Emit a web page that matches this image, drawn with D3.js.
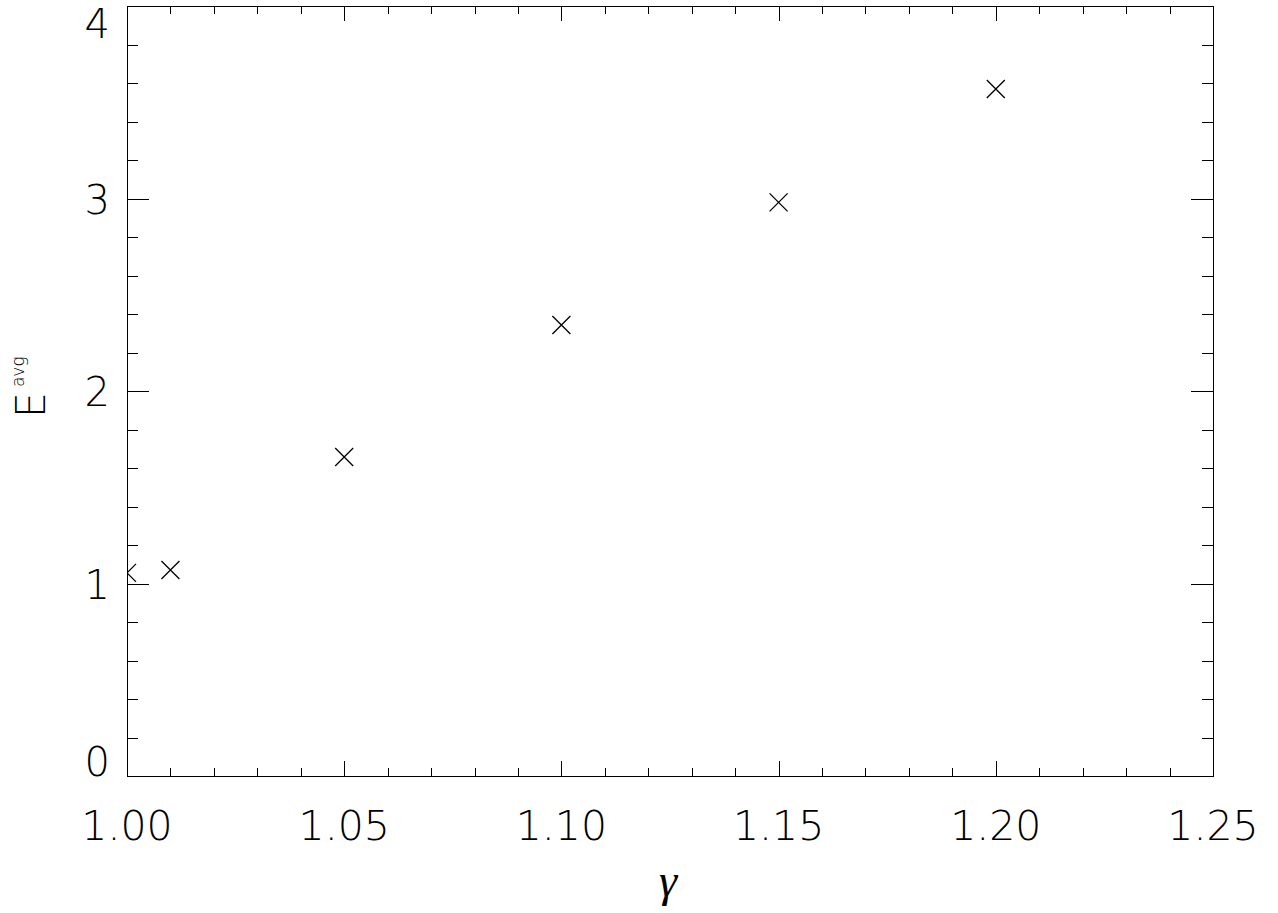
<!DOCTYPE html>
<html>
<head>
<meta charset="utf-8">
<script src="https://cdn.jsdelivr.net/npm/d3@7"></script>
<style>
  body { margin: 0; background: #fff; }
  svg { display: block; }
  .lbl { font-family: "DejaVu Sans", sans-serif; font-weight: 200; fill: #000; }
</style>
</head>
<body>
<svg width="1278" height="913"></svg>
<script>
// data
var gammaVals = [1.00, 1.01, 1.05, 1.10, 1.15, 1.20];
var eAvgVals = [1.055, 1.07, 1.657, 2.343, 2.98, 3.569];
var xMajorTicks = [1.00, 1.05, 1.10, 1.15, 1.20, 1.25];
var yMajorTicks = [0, 1, 2, 3, 4];

var svg = d3.select('svg');

// plot box (don't call it "top", that's window.top)
var boxLeft = 127, boxRight = 1213, boxTop = 6, boxBottom = 776;

var scaleX = d3.scaleLinear().domain([1.00, 1.25]).range([boxLeft, boxRight]);
var scaleY = d3.scaleLinear().domain([0, 4]).range([boxBottom, boxTop]);

// minor ticks every 0.01 on x and 0.2 on y
var xMinor = d3.range(0, 26).map(function(i){ return 1 + i * 0.01; });
var yMinor = d3.range(0, 21).map(function(i){ return i * 0.2; });

var xMajLen = 15, xMinLen = 7.7, yMajLen = 21.7, yMinLen = 10.9;

function styleAxis(g){
    g.selectAll('path, line').attr('stroke', '#000').attr('stroke-width', 1)
        .attr('shape-rendering', 'crispEdges');
    g.selectAll('text').remove();
}

//bottom and top axes, ticks pointing inward
svg.append('g').attr('transform', 'translate(0,' + boxBottom + ')')
    .call(d3.axisBottom(scaleX).tickValues(xMinor).tickSizeInner(-xMinLen).tickSizeOuter(0).tickFormat(''))
    .call(styleAxis);
svg.append('g').attr('transform', 'translate(0,' + boxBottom + ')')
    .call(d3.axisBottom(scaleX).tickValues(xMajorTicks).tickSizeInner(-xMajLen).tickSizeOuter(0).tickFormat(''))
    .call(styleAxis);
svg.append('g').attr('transform', 'translate(0,' + boxTop + ')')
    .call(d3.axisTop(scaleX).tickValues(xMinor).tickSizeInner(-xMinLen).tickSizeOuter(0).tickFormat(''))
    .call(styleAxis);
svg.append('g').attr('transform', 'translate(0,' + boxTop + ')')
    .call(d3.axisTop(scaleX).tickValues(xMajorTicks).tickSizeInner(-xMajLen).tickSizeOuter(0).tickFormat(''))
    .call(styleAxis);

//left and right axes
svg.append('g').attr('transform', 'translate(' + boxLeft + ',0)')
    .call(d3.axisLeft(scaleY).tickValues(yMinor).tickSizeInner(-yMinLen).tickSizeOuter(0).tickFormat(''))
    .call(styleAxis);
svg.append('g').attr('transform', 'translate(' + boxLeft + ',0)')
    .call(d3.axisLeft(scaleY).tickValues(yMajorTicks).tickSizeInner(-yMajLen).tickSizeOuter(0).tickFormat(''))
    .call(styleAxis);
svg.append('g').attr('transform', 'translate(' + boxRight + ',0)')
    .call(d3.axisRight(scaleY).tickValues(yMinor).tickSizeInner(-yMinLen).tickSizeOuter(0).tickFormat(''))
    .call(styleAxis);
svg.append('g').attr('transform', 'translate(' + boxRight + ',0)')
    .call(d3.axisRight(scaleY).tickValues(yMajorTicks).tickSizeInner(-yMajLen).tickSizeOuter(0).tickFormat(''))
    .call(styleAxis);

// tick labels
svg.selectAll('.xlbl')
    .data(xMajorTicks)
    .enter()
    .append('text')
    .attr('class', 'lbl')
    .attr('x', function(d){ return scaleX(d); })
    .attr('y', 840)
    .attr('font-size', 41)
    .style('text-anchor', 'middle')
    .text(function(d){ return d.toFixed(2); });

svg.selectAll('.ylbl')
    .data(yMajorTicks)
    .enter()
    .append('text')
    .attr('class', 'lbl')
    .attr('x', 110)
    .attr('y', function(d){
        // end labels are kept inside the axis span
        if (d == 0) return scaleY(d);
        if (d == 4) return scaleY(d) + 32;
        return scaleY(d) + 15;
    })
    .attr('font-size', 40)
    .style('text-anchor', 'end')
    .text(function(d){ return d; });

// axis titles
svg.append('text')
    .attr('x', 668)
    .attr('y', 896)
    .attr('font-family', '"Liberation Serif", serif')
    .attr('font-style', 'italic')
    .attr('font-size', 46)
    .style('text-anchor', 'middle')
    .text('γ');

var yTitle = svg.append('text')
    .attr('class', 'lbl')
    .attr('transform', 'translate(45,418)rotate(-90)');
yTitle.append('tspan').attr('font-size', 41).text('E');
yTitle.append('tspan').attr('font-size', 17).attr('dx', 5).attr('dy', -21).text('avg');

// data points as X markers, clipped to the plot box
svg.append('clipPath').attr('id', 'plotclip')
    .append('rect')
    .attr('x', boxLeft).attr('y', boxTop)
    .attr('width', boxRight - boxLeft).attr('height', boxBottom - boxTop);

var pts = gammaVals.map(function(g, i){ return {x: g, y: eAvgVals[i]}; });
var r = 9;

svg.append('g').attr('clip-path', 'url(#plotclip)')
    .selectAll('path')
    .data(pts)
    .enter()
    .append('path')
    .attr('d', function(d){
        var cx = scaleX(d.x), cy = scaleY(d.y);
        return 'M' + (cx - r) + ',' + (cy - r) + 'L' + (cx + r) + ',' + (cy + r) +
               'M' + (cx - r) + ',' + (cy + r) + 'L' + (cx + r) + ',' + (cy - r);
    })
    .attr('stroke', '#000')
    .attr('stroke-width', 1.3)
    .attr('fill', 'none');
</script>
</body>
</html>
